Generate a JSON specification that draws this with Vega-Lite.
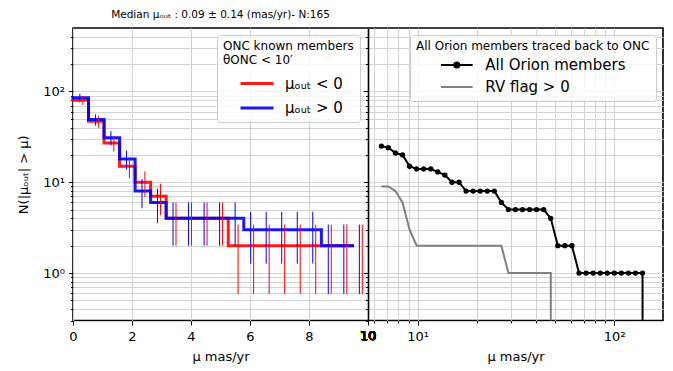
{
  "$schema": "https://vega.github.io/schema/vega-lite/v6.json",
  "autosize": {"type": "none"},
  "width": 590,
  "height": 292.5,
  "padding": {"left": 73, "top": 28, "right": 10, "bottom": 50.5},
  "config": {
    "font": "DejaVu Sans",
    "view": {"stroke": "black", "strokeWidth": 1.6},
    "axis": {
      "labelFont": "DejaVu Sans", "titleFont": "DejaVu Sans",
      "labelFontSize": 13, "titleFontSize": 13,
      "labelColor": "black", "titleColor": "black", "titleFontWeight": "normal",
      "tickColor": "black", "tickWidth": 1,
      "gridColor": "#d3d3d3", "gridWidth": 1,
      "domain": false, "labelOverlap": false, "labelBound": false, "labelFlush": false
    },
    "legend": {
      "titleFont": "DejaVu Sans", "labelFont": "DejaVu Sans",
      "titleFontWeight": "normal", "titleColor": "black", "labelColor": "black",
      "titleFontSize": 12, "labelFontSize": 15, "titleLimit": 400,
      "fillColor": "rgba(255,255,255,0.8)", "strokeColor": "#cccccc",
      "cornerRadius": 3, "padding": 6, "symbolSize": 400
    }
  },
  "title": {
    "text": "Median μₒᵤₜ : 0.09 ± 0.14 (mas/yr)- N:165",
    "fontSize": 10.5, "fontWeight": "normal", "font": "DejaVu Sans", "color": "black",
    "anchor": "middle", "frame": "group", "dx": -147.5, "offset": 8
  },
  "datasets": {
    "onc": [
      {"group": "μₒᵤₜ < 0", "edge": 0.0, "bar": 0.333, "n": 80, "lo": 71.06, "hi": 88.94},
      {"group": "μₒᵤₜ < 0", "edge": 0.5263, "bar": 0.860, "n": 47, "lo": 40.14, "hi": 53.86},
      {"group": "μₒᵤₜ < 0", "edge": 1.0526, "bar": 1.386, "n": 27, "lo": 21.80, "hi": 32.20},
      {"group": "μₒᵤₜ < 0", "edge": 1.5789, "bar": 1.912, "n": 15, "lo": 11.13, "hi": 18.87},
      {"group": "μₒᵤₜ < 0", "edge": 2.1053, "bar": 2.438, "n": 10, "lo": 6.84, "hi": 13.16},
      {"group": "μₒᵤₜ < 0", "edge": 2.6316, "bar": 2.965, "n": 7, "lo": 4.35, "hi": 9.65},
      {"group": "μₒᵤₜ < 0", "edge": 3.1579, "bar": 3.491, "n": 4, "lo": 2, "hi": 6},
      {"group": "μₒᵤₜ < 0", "edge": 3.6842, "bar": 4.017, "n": 4, "lo": 2, "hi": 6},
      {"group": "μₒᵤₜ < 0", "edge": 4.2105, "bar": 4.544, "n": 4, "lo": 2, "hi": 6},
      {"group": "μₒᵤₜ < 0", "edge": 4.7368, "bar": 5.070, "n": 4, "lo": 2, "hi": 6},
      {"group": "μₒᵤₜ < 0", "edge": 5.2632, "bar": 5.596, "n": 2, "lo": 0.586, "hi": 3.414},
      {"group": "μₒᵤₜ < 0", "edge": 5.7895, "bar": 6.123, "n": 2, "lo": 0.586, "hi": 3.414},
      {"group": "μₒᵤₜ < 0", "edge": 6.3158, "bar": 6.649, "n": 2, "lo": 0.586, "hi": 3.414},
      {"group": "μₒᵤₜ < 0", "edge": 6.8421, "bar": 7.175, "n": 2, "lo": 0.586, "hi": 3.414},
      {"group": "μₒᵤₜ < 0", "edge": 7.3684, "bar": 7.702, "n": 2, "lo": 0.586, "hi": 3.414},
      {"group": "μₒᵤₜ < 0", "edge": 7.8947, "bar": 8.228, "n": 2, "lo": 0.586, "hi": 3.414},
      {"group": "μₒᵤₜ < 0", "edge": 8.4211, "bar": 8.754, "n": 2, "lo": 0.586, "hi": 3.414},
      {"group": "μₒᵤₜ < 0", "edge": 8.9474, "bar": 9.281, "n": 2, "lo": 0.586, "hi": 3.414},
      {"group": "μₒᵤₜ < 0", "edge": 9.4737, "bar": 9.807, "n": 2, "lo": 0.586, "hi": 3.414},
      {"group": "μₒᵤₜ > 0", "edge": 0.0, "bar": 0.233, "n": 85, "lo": 75.78, "hi": 94.22},
      {"group": "μₒᵤₜ > 0", "edge": 0.5263, "bar": 0.760, "n": 49, "lo": 42, "hi": 56},
      {"group": "μₒᵤₜ > 0", "edge": 1.0526, "bar": 1.286, "n": 31, "lo": 25.43, "hi": 36.57},
      {"group": "μₒᵤₜ > 0", "edge": 1.5789, "bar": 1.812, "n": 18, "lo": 13.76, "hi": 22.24},
      {"group": "μₒᵤₜ > 0", "edge": 2.1053, "bar": 2.338, "n": 8, "lo": 5.17, "hi": 10.83},
      {"group": "μₒᵤₜ > 0", "edge": 2.6316, "bar": 2.865, "n": 6, "lo": 3.55, "hi": 8.45},
      {"group": "μₒᵤₜ > 0", "edge": 3.1579, "bar": 3.391, "n": 4, "lo": 2, "hi": 6},
      {"group": "μₒᵤₜ > 0", "edge": 3.6842, "bar": 3.917, "n": 4, "lo": 2, "hi": 6},
      {"group": "μₒᵤₜ > 0", "edge": 4.2105, "bar": 4.444, "n": 4, "lo": 2, "hi": 6},
      {"group": "μₒᵤₜ > 0", "edge": 4.7368, "bar": 4.970, "n": 4, "lo": 2, "hi": 6},
      {"group": "μₒᵤₜ > 0", "edge": 5.2632, "bar": 5.496, "n": 4, "lo": 2, "hi": 6},
      {"group": "μₒᵤₜ > 0", "edge": 5.7895, "bar": 6.023, "n": 3, "lo": 1.27, "hi": 4.73},
      {"group": "μₒᵤₜ > 0", "edge": 6.3158, "bar": 6.549, "n": 3, "lo": 1.27, "hi": 4.73},
      {"group": "μₒᵤₜ > 0", "edge": 6.8421, "bar": 7.075, "n": 3, "lo": 1.27, "hi": 4.73},
      {"group": "μₒᵤₜ > 0", "edge": 7.3684, "bar": 7.602, "n": 3, "lo": 1.27, "hi": 4.73},
      {"group": "μₒᵤₜ > 0", "edge": 7.8947, "bar": 8.128, "n": 3, "lo": 1.27, "hi": 4.73},
      {"group": "μₒᵤₜ > 0", "edge": 8.4211, "bar": 8.654, "n": 2, "lo": 0.586, "hi": 3.414},
      {"group": "μₒᵤₜ > 0", "edge": 8.9474, "bar": 9.181, "n": 2, "lo": 0.586, "hi": 3.414},
      {"group": "μₒᵤₜ > 0", "edge": 9.4737, "bar": 9.707, "n": 2, "lo": 0.586, "hi": 3.414}
    ],
    "orion": [
      {"sample": "All Orion members", "idx": 0, "mu": 6.55, "n": 25},
      {"sample": "All Orion members", "idx": 1, "mu": 7.11, "n": 24},
      {"sample": "All Orion members", "idx": 2, "mu": 7.72, "n": 21},
      {"sample": "All Orion members", "idx": 3, "mu": 8.39, "n": 20},
      {"sample": "All Orion members", "idx": 4, "mu": 9.11, "n": 15},
      {"sample": "All Orion members", "idx": 5, "mu": 9.90, "n": 14},
      {"sample": "All Orion members", "idx": 6, "mu": 10.75, "n": 14},
      {"sample": "All Orion members", "idx": 7, "mu": 11.68, "n": 14},
      {"sample": "All Orion members", "idx": 8, "mu": 12.68, "n": 13},
      {"sample": "All Orion members", "idx": 9, "mu": 13.77, "n": 12},
      {"sample": "All Orion members", "idx": 10, "mu": 14.96, "n": 10},
      {"sample": "All Orion members", "idx": 11, "mu": 16.25, "n": 10},
      {"sample": "All Orion members", "idx": 12, "mu": 17.65, "n": 8},
      {"sample": "All Orion members", "idx": 13, "mu": 19.17, "n": 8},
      {"sample": "All Orion members", "idx": 14, "mu": 20.82, "n": 8},
      {"sample": "All Orion members", "idx": 15, "mu": 22.61, "n": 8},
      {"sample": "All Orion members", "idx": 16, "mu": 24.56, "n": 8},
      {"sample": "All Orion members", "idx": 17, "mu": 26.68, "n": 6},
      {"sample": "All Orion members", "idx": 18, "mu": 28.97, "n": 5},
      {"sample": "All Orion members", "idx": 19, "mu": 31.47, "n": 5},
      {"sample": "All Orion members", "idx": 20, "mu": 34.18, "n": 5},
      {"sample": "All Orion members", "idx": 21, "mu": 37.13, "n": 5},
      {"sample": "All Orion members", "idx": 22, "mu": 40.33, "n": 5},
      {"sample": "All Orion members", "idx": 23, "mu": 43.80, "n": 5},
      {"sample": "All Orion members", "idx": 24, "mu": 47.58, "n": 4},
      {"sample": "All Orion members", "idx": 25, "mu": 51.68, "n": 2},
      {"sample": "All Orion members", "idx": 26, "mu": 56.13, "n": 2},
      {"sample": "All Orion members", "idx": 27, "mu": 60.96, "n": 2},
      {"sample": "All Orion members", "idx": 28, "mu": 66.22, "n": 1},
      {"sample": "All Orion members", "idx": 29, "mu": 71.92, "n": 1},
      {"sample": "All Orion members", "idx": 30, "mu": 78.12, "n": 1},
      {"sample": "All Orion members", "idx": 31, "mu": 84.84, "n": 1},
      {"sample": "All Orion members", "idx": 32, "mu": 92.15, "n": 1},
      {"sample": "All Orion members", "idx": 33, "mu": 100.1, "n": 1},
      {"sample": "All Orion members", "idx": 34, "mu": 108.7, "n": 1},
      {"sample": "All Orion members", "idx": 35, "mu": 118.1, "n": 1},
      {"sample": "All Orion members", "idx": 36, "mu": 128.3, "n": 1},
      {"sample": "All Orion members", "idx": 37, "mu": 139.3, "n": 1},
      {"sample": "All Orion members", "idx": 38, "mu": 139.3, "n": 0},
      {"sample": "RV flag > 0", "idx": 0, "mu": 6.55, "n": 9},
      {"sample": "RV flag > 0", "idx": 1, "mu": 7.11, "n": 9},
      {"sample": "RV flag > 0", "idx": 2, "mu": 7.72, "n": 8},
      {"sample": "RV flag > 0", "idx": 3, "mu": 8.39, "n": 6},
      {"sample": "RV flag > 0", "idx": 4, "mu": 9.11, "n": 3},
      {"sample": "RV flag > 0", "idx": 5, "mu": 9.90, "n": 2},
      {"sample": "RV flag > 0", "idx": 6, "mu": 10.75, "n": 2},
      {"sample": "RV flag > 0", "idx": 7, "mu": 11.68, "n": 2},
      {"sample": "RV flag > 0", "idx": 8, "mu": 12.68, "n": 2},
      {"sample": "RV flag > 0", "idx": 9, "mu": 13.77, "n": 2},
      {"sample": "RV flag > 0", "idx": 10, "mu": 14.96, "n": 2},
      {"sample": "RV flag > 0", "idx": 11, "mu": 16.25, "n": 2},
      {"sample": "RV flag > 0", "idx": 12, "mu": 17.65, "n": 2},
      {"sample": "RV flag > 0", "idx": 13, "mu": 19.17, "n": 2},
      {"sample": "RV flag > 0", "idx": 14, "mu": 20.82, "n": 2},
      {"sample": "RV flag > 0", "idx": 15, "mu": 22.61, "n": 2},
      {"sample": "RV flag > 0", "idx": 16, "mu": 24.56, "n": 2},
      {"sample": "RV flag > 0", "idx": 17, "mu": 26.68, "n": 2},
      {"sample": "RV flag > 0", "idx": 18, "mu": 28.97, "n": 1},
      {"sample": "RV flag > 0", "idx": 19, "mu": 31.47, "n": 1},
      {"sample": "RV flag > 0", "idx": 20, "mu": 34.18, "n": 1},
      {"sample": "RV flag > 0", "idx": 21, "mu": 37.13, "n": 1},
      {"sample": "RV flag > 0", "idx": 22, "mu": 40.33, "n": 1},
      {"sample": "RV flag > 0", "idx": 23, "mu": 43.80, "n": 1},
      {"sample": "RV flag > 0", "idx": 24, "mu": 47.58, "n": 1},
      {"sample": "RV flag > 0", "idx": 25, "mu": 47.58, "n": 0}
    ]
  },
  "layer": [
    {
      "data": {"name": "onc"},
      "layer": [
        {
          "mark": {"type": "line", "interpolate": "step-after", "strokeWidth": 3, "opacity": 0.9, "strokeCap": "square"},
          "encoding": {
            "x": {"field": "edge", "type": "quantitative",
              "scale": {"domain": [0, 10], "range": [0, 295], "nice": false, "zero": false},
              "axis": {"orient": "bottom", "values": [0, 2, 4, 6, 8, 9.9999], "labelExpr": "format(datum.value, '.0f')", "title": "μ mas/yr", "grid": true, "tickSize": 4.5, "labelPadding": 5, "titlePadding": 7, "labelFlush": false, "labelOverlap": false, "labelBound": false}},
            "y": {"field": "n", "type": "quantitative",
              "scale": {"type": "log", "domain": [0.3, 500], "nice": false, "clamp": true},
              "axis": {"orient": "left", "values": [1, 10, 100], "labelExpr": "datum.value === 1 ? '10⁰' : datum.value === 10 ? '10¹' : '10²'", "title": "N(|μₒᵤₜ| > μ)", "grid": true, "tickSize": 4.5, "labelPadding": 4, "titlePadding": 12}},
            "color": {"field": "group", "type": "nominal",
              "scale": {"domain": ["μₒᵤₜ < 0", "μₒᵤₜ > 0"], "range": ["red", "blue"]},
              "legend": {"orient": "none", "legendX": 144, "legendY": 7,
                "title": ["ONC known members", "θONC < 10′"], "titleLineHeight": 14, "titlePadding": 5,
                "symbolType": "M-1.65,0L1.65,0", "symbolStrokeWidth": 3, "symbolOffset": 22.5, "labelOffset": 16.5, "rowPadding": 4.4}}
          }
        },
        {
          "mark": {"type": "rule", "strokeWidth": 1},
          "encoding": {
            "x": {"field": "bar", "type": "quantitative", "axis": null},
            "y": {"field": "lo", "type": "quantitative",
              "scale": {"type": "log", "domain": [0.3, 500], "nice": false, "clamp": true},
              "axis": {"orient": "left", "values": [0.3, 0.4, 0.5, 0.6, 0.7, 0.8, 0.9, 2, 3, 4, 5, 6, 7, 8, 9, 20, 30, 40, 50, 60, 70, 80, 90, 200, 300, 400], "labels": false, "tickSize": 2.5, "grid": true, "title": null}},
            "y2": {"field": "hi"},
            "color": {"field": "group", "type": "nominal", "legend": null}
          }
        },
        {
          "mark": {"type": "text", "text": "10", "baseline": "top", "align": "center", "dy": 9.5, "fontSize": 13, "font": "DejaVu Sans", "color": "black"},
          "encoding": {
            "x": {"datum": 10, "type": "quantitative", "axis": null},
            "y": {"datum": 0.3, "type": "quantitative", "axis": null}
          }
        }
      ],
      "resolve": {"axis": {"x": "independent", "y": "independent"}}
    },
    {
      "data": {"name": "orion"},
      "layer": [
        {
          "transform": [{"filter": "datum.sample === 'RV flag > 0'"}],
          "mark": {"type": "line", "strokeWidth": 2},
          "encoding": {
            "x": {"field": "mu", "type": "quantitative",
              "scale": {"type": "log", "domain": [5.6, 177], "range": [295, 590], "nice": false},
              "axis": null},
            "y": {"field": "n", "type": "quantitative",
              "scale": {"type": "log", "domain": [0.3, 500], "nice": false, "clamp": true},
              "axis": {"orient": "left", "offset": -295, "values": [0.3, 0.4, 0.5, 0.6, 0.7, 0.8, 0.9, 2, 3, 4, 5, 6, 7, 8, 9, 20, 30, 40, 50, 60, 70, 80, 90, 200, 300, 400], "labels": false, "tickSize": 2.5, "grid": false, "title": null}},
            "order": {"field": "idx", "type": "quantitative"},
            "color": {"field": "sample", "type": "nominal",
              "scale": {"domain": ["All Orion members", "RV flag > 0"], "range": ["black", "gray"]},
              "legend": {"orient": "none", "legendX": 337, "legendY": 7,
                "title": "All Orion members traced back to ONC", "titlePadding": 1,
                "symbolType": "M-1.585,0L1.585,0", "symbolStrokeWidth": 2, "symbolOffset": 29.8, "labelOffset": 17.5, "rowPadding": 3,
                "encode": {"symbols": {"update": {
                  "shape": [{"test": "datum.value === 'All Orion members'", "value": "M-1.585,0L1.585,0M0.26,0A0.26,0.26,0,1,1,-0.26,0A0.26,0.26,0,1,1,0.26,0Z"}, {"value": "M-1.585,0L1.585,0"}],
                  "fill": [{"test": "datum.value === 'All Orion members'", "value": "black"}, {"value": "transparent"}]
                }}}}}
          }
        },
        {
          "transform": [{"filter": "datum.sample === 'All Orion members'"}],
          "mark": {"type": "line", "strokeWidth": 2},
          "encoding": {
            "x": {"field": "mu", "type": "quantitative",
              "scale": {"type": "log", "domain": [5.6, 177], "range": [295, 590], "nice": false},
              "axis": {"orient": "bottom", "values": [10, 100], "labelExpr": "datum.value === 10 ? '10¹' : '10²'", "title": "μ mas/yr", "grid": true, "tickSize": 4.5, "labelPadding": 5, "titlePadding": 7}},
            "y": {"field": "n", "type": "quantitative",
              "scale": {"type": "log", "domain": [0.3, 500], "nice": false, "clamp": true},
              "axis": {"orient": "left", "values": [0.3, 0.4, 0.5, 0.6, 0.7, 0.8, 0.9, 1, 2, 3, 4, 5, 6, 7, 8, 9, 10, 20, 30, 40, 50, 60, 70, 80, 90, 100, 200, 300, 400], "labels": false, "ticks": false, "grid": true, "title": null}},
            "order": {"field": "idx", "type": "quantitative"},
            "color": {"field": "sample", "type": "nominal"}
          }
        },
        {
          "transform": [{"filter": "datum.sample === 'All Orion members' && datum.n > 0"}],
          "mark": {"type": "circle", "size": 28, "opacity": 1, "color": "black"},
          "encoding": {
            "x": {"field": "mu", "type": "quantitative",
              "axis": {"orient": "bottom", "values": [6, 7, 8, 9, 20, 30, 40, 50, 60, 70, 80, 90], "labels": false, "tickSize": 2.5, "grid": true, "title": null}},
            "y": {"field": "n", "type": "quantitative",
              "scale": {"type": "log", "domain": [0.3, 500], "nice": false, "clamp": true},
              "axis": {"orient": "left", "offset": -295, "values": [1, 10, 100], "labels": false, "tickSize": 4.5, "grid": false, "title": null, "domain": true, "domainColor": "black", "domainWidth": 1.6}}
          }
        }
      ],
      "resolve": {"axis": {"x": "independent", "y": "independent"}}
    }
  ],
  "resolve": {
    "scale": {"x": "independent", "color": "independent"},
    "axis": {"x": "independent", "y": "independent"},
    "legend": {"color": "independent"}
  }
}
